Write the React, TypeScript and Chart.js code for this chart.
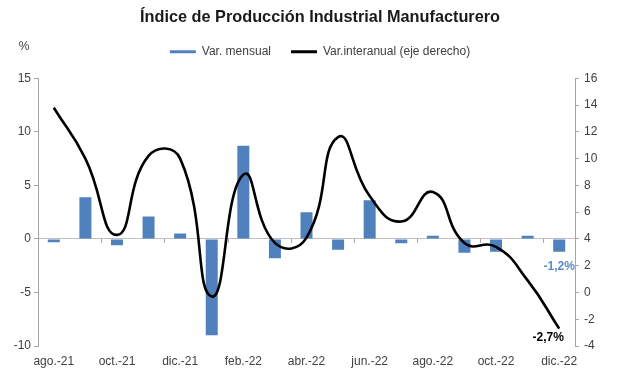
import React, { useEffect, useRef } from 'react';
import { Chart, registerables } from 'chart.js';

Chart.register(...registerables);

// ---- data ----
const categories = [
  'ago.-21', 'sep.-21', 'oct.-21', 'nov.-21', 'dic.-21', 'ene.-22', 'feb.-22', 'mar.-22', 'abr.-22',
  'may.-22', 'jun.-22', 'jul.-22', 'ago.-22', 'sep.-22', 'oct.-22', 'nov.-22', 'dic.-22',
];
const monthlyChange = [-0.3, 3.9, -0.6, 2.1, 0.5, -9.0, 8.7, -1.8, 2.5, -1.0, 3.6, -0.4, 0.3, -1.3, -1.2, 0.3, -1.2];
const yearOnYearChange = [13.8, 10.0, 4.3, 10.2, 10.0, -0.3, 8.8, 3.7, 4.1, 11.6, 7.2, 5.3, 7.5, 3.7, 3.4, 0.9, -2.7];
const seriesNames = ['Var. mensual', 'Var.interanual (eje derecho)'];
const leftAxis = [-10, 15, 5]; // min, max, step
const rightAxis = [-4, 16, 2]; // min, max, step
const titleText = 'Índice de Producción Industrial Manufacturero';
const unitLabel = '%';

const FONT = "'Liberation Sans', Arial, Helvetica, sans-serif";
const BAR_COLOR = '#4F81BD';
const LABEL_BLUE = '#5B8ACB';
const TEXT = '#404040';
const AXIS = '#A6A6A6';

const fmt = (v: number) => v.toFixed(1).replace('.', ',') + '%';

export default function App() {
  const ref = useRef<HTMLCanvasElement>(null);

  useEffect(() => {
    document.body.style.margin = '0';
    Chart.defaults.font.family = FONT;
    const canvas = ref.current;
    if (!canvas) return;

    const legendSpacer = {
      id: 'legendSpacer',
      beforeInit(chart: any) {
        const leg = chart.legend;
        if (!leg) return;
        const orig = leg.fit;
        leg.fit = function () {
          orig.call(this);
          this.height += 10.5;
        };
      },
    };

    const extras = {
      id: 'extras',
      beforeDatasetsDraw(chart: any) {
        const { ctx, scales } = chart;
        const x = scales.x;
        const y0 = scales.y.getPixelForValue(0);
        ctx.save();
        ctx.strokeStyle = AXIS;
        ctx.lineWidth = 1;
        for (let k = 2; k < categories.length; k += 2) {
          const px = Math.round(x.getPixelForValue(k - 0.5)) + 0.5;
          ctx.beginPath();
          ctx.moveTo(px, y0);
          ctx.lineTo(px, y0 + 4);
          ctx.stroke();
        }
        ctx.restore();
      },
      afterDatasetsDraw(chart: any) {
        const { ctx, chartArea } = chart;
        const last = categories.length - 1;
        const bar = chart.getDatasetMeta(0).data[last];
        const pt = chart.getDatasetMeta(1).data[last];
        ctx.save();
        ctx.textAlign = 'center';
        ctx.textBaseline = 'middle';
        ctx.font = `bold 12px ${FONT}`;
        ctx.fillStyle = LABEL_BLUE;
        ctx.fillText(fmt(monthlyChange[last]), bar.x, bar.y + 15);
        ctx.fillStyle = '#000';
        ctx.fillText(fmt(yearOnYearChange[last]), pt.x - 11, pt.y + 9);
        ctx.font = `12px ${FONT}`;
        ctx.fillStyle = TEXT;
        ctx.fillText(unitLabel, chartArea.left - 14, chartArea.top - 32);
        ctx.restore();
      },
    };

    const chart = new Chart(canvas, {
      type: 'bar',
      data: {
        labels: categories,
        datasets: [
          {
            type: 'bar',
            label: seriesNames[0],
            data: monthlyChange,
            backgroundColor: BAR_COLOR,
            borderWidth: 0,
            barPercentage: 0.38,
            categoryPercentage: 1,
            yAxisID: 'y',
            order: 1,
          },
          {
            type: 'line',
            label: seriesNames[1],
            data: yearOnYearChange,
            borderColor: '#000',
            backgroundColor: '#000',
            borderWidth: 2.6,
            pointRadius: 0,
            tension: 0.5,
            fill: false,
            yAxisID: 'y2',
            order: 0,
          },
        ],
      },
      options: {
        responsive: false,
        animation: false,
        devicePixelRatio: 1,
        layout: { padding: { left: 0, right: -23, top: 0, bottom: 0 } },
        plugins: {
          tooltip: { enabled: false },
          title: {
            display: true,
            text: titleText,
            color: '#1a1a1a',
            font: { size: 16.3, weight: 'bold', lineHeight: 1 },
            padding: { top: 9.5, bottom: 0 },
          },
          legend: {
            display: true,
            labels: {
              color: TEXT,
              font: { size: 12 },
              padding: 20,
              boxWidth: 26,
              boxHeight: 3,
              sort: (a: any, b: any) => a.datasetIndex - b.datasetIndex,
              generateLabels: (ch: any) =>
                ch.data.datasets.map((ds: any, i: number) => ({
                  text: ds.label,
                  fillStyle: i === 0 ? BAR_COLOR : '#000',
                  strokeStyle: 'rgba(0,0,0,0)',
                  lineWidth: 1,
                  hidden: false,
                  datasetIndex: i,
                  fontColor: TEXT,
                })),
            },
          },
        },
        scales: {
          x: {
            type: 'category',
            offset: true,
            grid: { display: false, drawTicks: false },
            border: { display: false },
            ticks: {
              autoSkip: false,
              maxRotation: 0,
              minRotation: 0,
              padding: 8,
              color: TEXT,
              font: { size: 12 },
              callback: (_v: any, i: number) => (i % 2 === 0 ? categories[i] : ''),
            },
            afterFit: (s: any) => {
              s.height = 40;
            },
          },
          y: {
            type: 'linear',
            position: 'left',
            min: leftAxis[0],
            max: leftAxis[1],
            ticks: { stepSize: leftAxis[2], color: TEXT, font: { size: 12 }, padding: 3 },
            grid: {
              color: (c: any) => (c.tick && c.tick.value === 0 ? '#BFBFBF' : 'rgba(0,0,0,0)'),
              tickColor: AXIS,
              tickLength: 4,
              lineWidth: 1,
            },
            border: { display: true, color: AXIS },
            afterFit: (s: any) => {
              s.width = 38;
            },
          },
          y2: {
            type: 'linear',
            position: 'right',
            min: rightAxis[0],
            max: rightAxis[1],
            ticks: { stepSize: rightAxis[2], color: TEXT, font: { size: 12 }, padding: 5 },
            grid: { drawOnChartArea: false, tickColor: AXIS, tickLength: 4 },
            border: { display: true, color: AXIS },
            afterFit: (s: any) => {
              s.width = 65;
            },
          },
        },
      },
      plugins: [legendSpacer, extras],
    } as any);

    return () => chart.destroy();
  }, []);

  return (
    <div style={{ width: 617, height: 386, background: '#fff' }}>
      <canvas ref={ref} width={617} height={386} style={{ display: 'block' }} />
    </div>
  );
}
